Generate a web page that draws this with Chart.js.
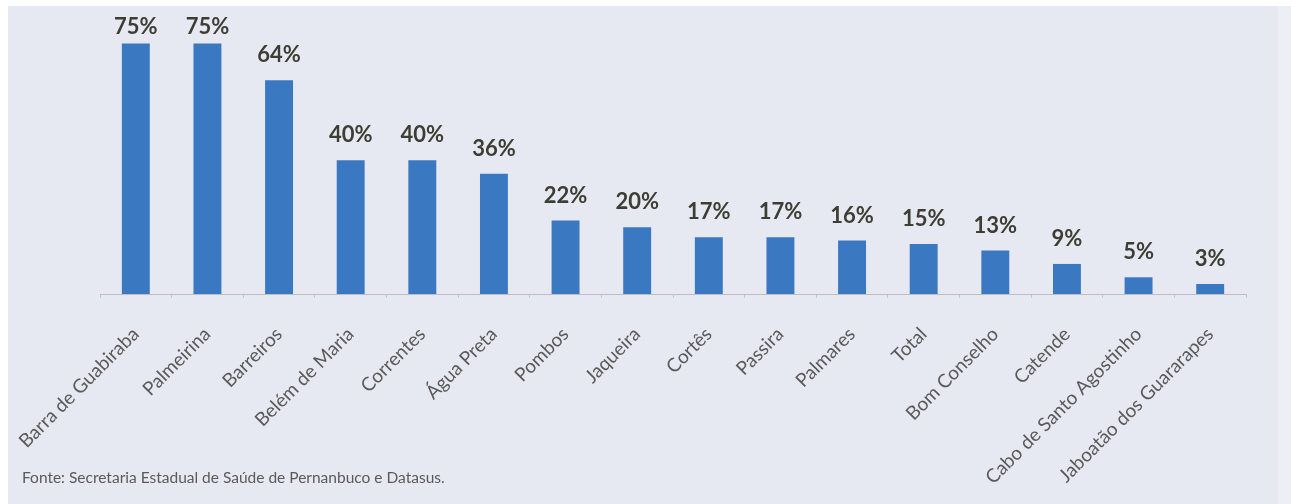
<!DOCTYPE html>
<html><head><meta charset="utf-8">
<script src="https://cdn.jsdelivr.net/npm/chart.js@4/dist/chart.umd.min.js"></script>
<style>
html,body{margin:0;padding:0;background:#fff;width:1291px;height:504px;overflow:hidden;}
#panel{position:absolute;left:8px;top:6px;width:1270px;height:498px;background:#e7e9f2;}
#edge{position:absolute;left:1278px;top:6px;width:13px;height:498px;background:#eeeff4;}
#wrap{position:absolute;left:0;top:0;width:1291px;height:504px;}
#src{position:absolute;left:22px;top:468px;font:15.5px Lato;color:#5a5a5a;white-space:nowrap;}
</style></head><body>
<div id="panel"></div>
<div id="edge"></div>
<div id="wrap"><canvas id="c" width="1291" height="504"></canvas></div>
<div id="src">Fonte: Secretaria Estadual de Saúde de Pernanbuco e Datasus.</div>
<script>
const categories = ["Barra de Guabiraba","Palmeirina","Barreiros","Belém de Maria","Correntes","Água Preta","Pombos","Jaqueira","Cortês","Passira","Palmares","Total","Bom Conselho","Catende","Cabo de Santo Agostinho","Jaboatão dos Guararapes"];
const values = [75,75,64,40,40,36,22,20,17,17,16,15,13,9,5,3];
const valueLabels = values.map(v => v + '%');

const valueLabelPlugin = {
  id: 'valueLabels',
  afterDatasetsDraw(chart) {
    const ctx = chart.ctx;
    const meta = chart.getDatasetMeta(0);
    ctx.save();
    ctx.font = 'bold 22px Lato';
    ctx.fillStyle = '#3d3d33';
    ctx.textAlign = 'center';
    ctx.textBaseline = 'middle';
    meta.data.forEach((bar, i) => {
      const y = Math.max(bar.y - 25, 27);
      ctx.fillText(valueLabels[i], bar.x, y);
    });
    ctx.restore();
  }
};

new Chart(document.getElementById('c'), {
  type: 'bar',
  data: {
    labels: categories,
    datasets: [{
      data: values,
      backgroundColor: '#3a78c2',
      borderWidth: 0,
      barPercentage: 0.39,
      categoryPercentage: 1.0
    }]
  },
  options: {
    responsive: false,
    animation: false,
    layout: { padding: { left: 100, right: 45, top: 10, bottom: 0 } },
    plugins: { legend: { display: false }, tooltip: { enabled: false } },
    scales: {
      y: { display: false, min: 0, max: 85 },
      x: {
        afterFit(scale) { scale.height = 210; scale.paddingLeft = 0; scale.paddingRight = 0; },
        grid: { display: true, drawOnChartArea: false, drawTicks: true, tickLength: 4, color: '#c4c4c8', offset: true },
        border: { display: true, color: '#bcbcc2', width: 1 },
        ticks: {
          minRotation: 45, maxRotation: 45, autoSkip: false,
          color: '#5a5a5a', padding: 25,
          font: { family: 'Lato', size: 19 }
        }
      }
    }
  },
  plugins: [valueLabelPlugin]
});
</script>
</body></html>
